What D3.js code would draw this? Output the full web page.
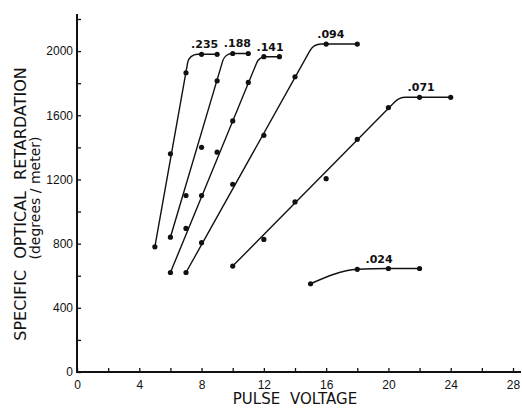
<!DOCTYPE html>
<html>
<head>
<meta charset="utf-8">
<script src="https://cdn.jsdelivr.net/npm/d3@7"></script>
<style>
  body { margin: 0; background: #fff; }
  svg { display: block; font-family: "DejaVu Sans", sans-serif; }
</style>
</head>
<body>
<div id="chart"></div>
<script>
// measured points, [pulse voltage, retardation]
const names = [".235", ".188", ".141", ".094", ".071", ".024"];
const pts235 = [[5, 780], [6, 1360], [7, 1865], [8, 1980], [9, 1980]];
const pts188 = [[6, 840], [7, 1100], [8, 1400], [9, 1815], [10, 1985], [11, 1985]];
const pts141 = [[6, 620], [7, 895], [8, 1100], [9, 1370], [10, 1565], [11, 1805], [12, 1965], [13, 1965]];
const pts094 = [[7, 620], [8, 806], [10, 1170], [12, 1475], [14, 1840], [16, 2044], [18, 2044]];
const pts071 = [[10, 660], [12, 826], [14, 1060], [16, 1205], [18, 1450], [20, 1648], [22, 1712], [24, 1712]];
const pts024 = [[15, 550], [18, 640], [20, 645], [22, 645]];

// hand-drawn curves: start, knee, end
const fit235 = [[5, 780], [7.2, 1980], [9, 1980]];
const fit188 = [[6, 840], [9.5, 1985], [11, 1985]];
const fit141 = [[6, 620], [11.7, 1965], [13, 1965]];
const fit094 = [[7, 620], [15.2, 2044], [18, 2044]];
const fit071 = [[10, 660], [20.7, 1712], [24, 1712]];

// where each label sits along the plateau (volts)
const labelV = [8.2, 10.3, 12.4, 16.3, 22.1, 19.4];

const xTicks = d3.range(0, 29, 2);
const yTicks = d3.range(0, 2201, 200);

const width = 522;
const height = 410;

const svg = d3.select("#chart").append("svg")
    .attr("width", width)
    .attr("height", height);

const x = d3.scaleLinear().domain([0, 28]).range([77, 513]);
const y = d3.scaleLinear().domain([0, 2200]).range([372, 19]);

const ink = "#111";

// axes
const xAxis = d3.axisBottom(x)
    .tickValues(xTicks)
    .tickFormat(d => d % 4 === 0 ? d : "")
    .tickSizeInner(-4)
    .tickSizeOuter(0)
    .tickPadding(8);

const yAxis = d3.axisLeft(y)
    .tickValues(yTicks)
    .tickFormat(d => d % 400 === 0 && d < 2200 ? d : "")
    .tickSizeInner(-4)
    .tickSizeOuter(0)
    .tickPadding(4);

const gx = svg.append("g").attr("transform", "translate(0," + y(0) + ")").call(xAxis);
const gy = svg.append("g").attr("transform", "translate(" + x(0) + ",0)").call(yAxis);

[gx, gy].forEach(g => {
    g.select(".domain").remove();
    g.selectAll(".tick line").attr("stroke", ink).attr("stroke-width", 1.3);
    g.selectAll(".tick text").attr("fill", ink).style("font-size", "12px");
});

svg.append("line")
    .attr("x1", x(0)).attr("x2", x(28) + 8)
    .attr("y1", y(0)).attr("y2", y(0))
    .attr("stroke", ink).attr("stroke-width", 2);

svg.append("line")
    .attr("x1", x(0)).attr("x2", x(0))
    .attr("y1", y(0) + 1).attr("y2", y(2200) - 5)
    .attr("stroke", ink).attr("stroke-width", 2);

// curves
const fits = [fit235, fit188, fit141, fit094, fit071];
const radii = [10, 10, 10, 13, 15];

fits.forEach((f, i) => {
    const p = d3.path();
    p.moveTo(x(f[0][0]), y(f[0][1]));
    p.arcTo(x(f[1][0]), y(f[1][1]), x(f[2][0]), y(f[2][1]), radii[i]);
    p.lineTo(x(f[2][0]), y(f[2][1]));
    svg.append("path")
        .attr("d", p.toString())
        .attr("fill", "none")
        .attr("stroke", ink)
        .attr("stroke-width", 1.4);
});

const lowLine = d3.line()
    .x(d => x(d[0]))
    .y(d => y(d[1]))
    .curve(d3.curveMonotoneX);

svg.append("path")
    .attr("d", lowLine(pts024))
    .attr("fill", "none")
    .attr("stroke", ink)
    .attr("stroke-width", 1.4);

// points
const allPts = [pts235, pts188, pts141, pts094, pts071, pts024];

allPts.forEach(pts => {
    svg.append("g").selectAll("circle")
        .data(pts)
        .enter().append("circle")
        .attr("cx", d => x(d[0]))
        .attr("cy", d => y(d[1]))
        .attr("r", 2.6)
        .attr("fill", ink);
});

// curve labels
allPts.forEach((pts, i) => {
    const top = d3.max(pts, d => d[1]);
    svg.append("text")
        .attr("x", x(labelV[i]))
        .attr("y", y(top) - 6)
        .attr("text-anchor", "middle")
        .attr("fill", ink)
        .style("font-size", "11px")
        .style("font-weight", "bold")
        .text(names[i]);
});

// axis titles
svg.append("text")
    .attr("x", 295)
    .attr("y", 404)
    .attr("text-anchor", "middle")
    .attr("fill", ink)
    .style("font-size", "15px")
    .style("word-spacing", "5px")
    .text("PULSE VOLTAGE");

svg.append("text")
    .attr("transform", "translate(20,204) rotate(-90)")
    .attr("dy", "0.36em")
    .attr("text-anchor", "middle")
    .attr("fill", ink)
    .style("font-size", "16px")
    .style("word-spacing", "6px")
    .text("SPECIFIC OPTICAL RETARDATION");

svg.append("text")
    .attr("transform", "translate(35,198) rotate(-90)")
    .attr("dy", "0.36em")
    .attr("text-anchor", "middle")
    .attr("fill", ink)
    .style("font-size", "14px")
    .text("(degrees / meter)");
</script>
</body>
</html>
